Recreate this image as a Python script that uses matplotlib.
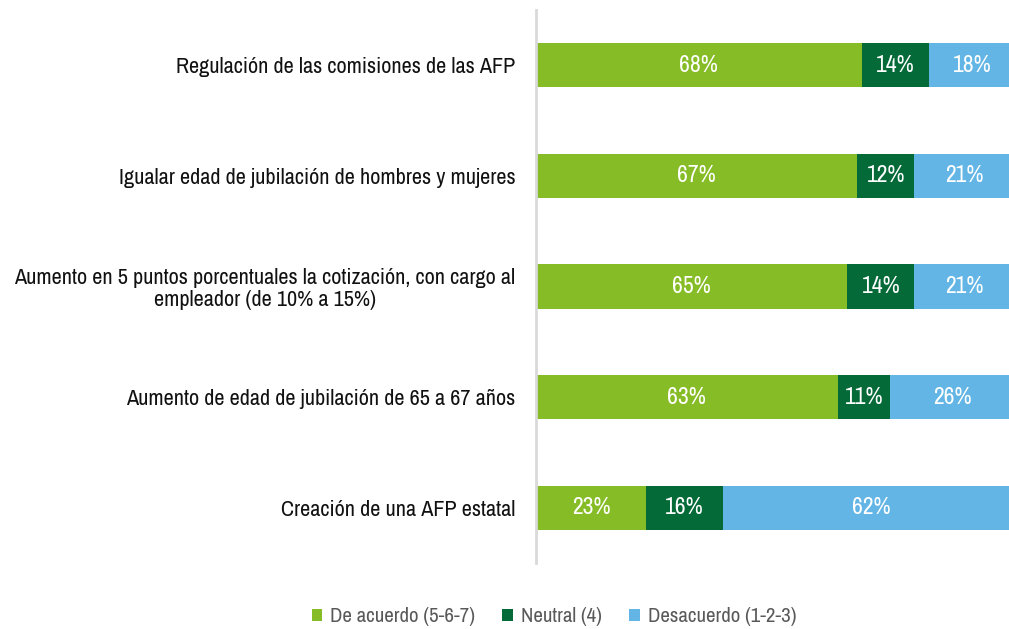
import matplotlib
matplotlib.use("Agg")
import matplotlib.pyplot as plt
import numpy as np

# Datos del gráfico
categorias = [
    "Regulación de las comisiones de las AFP",
    "Igualar edad de jubilación de hombres y mujeres",
    "Aumento en 5 puntos porcentuales la cotización, con cargo al\nempleador (de 10% a 15%)",
    "Aumento de edad de jubilación de 65 a 67 años",
    "Creación de una AFP estatal",
]
de_acuerdo = [68, 67, 65, 63, 23]
neutral = [14, 12, 14, 11, 16]
desacuerdo = [18, 21, 21, 26, 62]
series_nombres = ["De acuerdo (5-6-7)", "Neutral (4)", "Desacuerdo (1-2-3)"]
colores = ["#86BC25", "#046A38", "#62B5E5"]

plt.rcParams['font.family'] = ['Archivo Narrow', 'DejaVu Sans']

fig = plt.figure(figsize=(10.09, 6.29), dpi=100)
ax = fig.add_axes([536 / 1009, 1 - 563 / 629, (1009 - 536) / 1009, (563 - 10) / 629])

y = np.arange(len(categorias))
izq = np.zeros(len(categorias))
for valores, nombre, color in zip([de_acuerdo, neutral, desacuerdo], series_nombres, colores):
    valores = np.array(valores)
    ax.barh(y, valores, left=izq, height=0.4, color=color, label=nombre)
    for yi, l, v in zip(y, izq, valores):
        ax.text(l + v / 2, yi, f"{v}%", ha="center", va="center",
                color="white", fontsize=17)
    izq = izq + valores

ax.set_yticks(y)
ax.set_yticklabels(categorias, fontsize=16, color="#111111",
                   ha="right", multialignment="center", linespacing=1.1)
ax.tick_params(axis="y", length=0, pad=15)
ax.set_ylim(len(categorias) - 0.5, -0.5)
ax.set_xlim(0, (1009 - 536) / 479 * 100)
ax.set_xticks([])
for lado in ["top", "right", "bottom"]:
    ax.spines[lado].set_visible(False)
ax.spines["left"].set_color("#d9d9d9")
ax.spines["left"].set_linewidth(2)

# Leyenda abajo
fig.legend(loc="center", bbox_to_anchor=(554 / 1009, 1 - 617 / 629), ncol=3,
           frameon=False, fontsize=15, labelcolor="#595959",
           handlelength=0.5, handleheight=0.5, handletextpad=0.4, columnspacing=1.3)

fig.savefig("out.png", dpi=100)
